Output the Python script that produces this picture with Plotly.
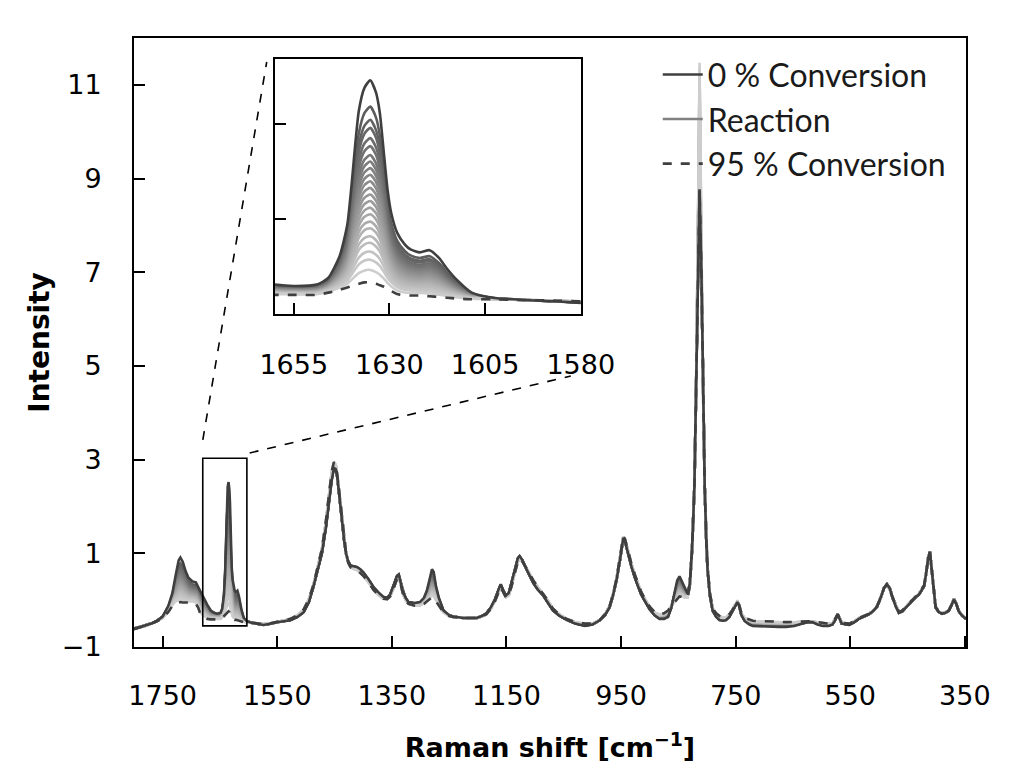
import numpy as np
import plotly.graph_objects as go

# ---------------- data ----------------
wavenumber = [1800, 1790, 1780, 1770, 1760, 1750, 1740, 1733, 1727, 1722, 1719, 1715, 1710, 1705,
              1698, 1692, 1688, 1684, 1678, 1672, 1666, 1660, 1655, 1649, 1646, 1643, 1641, 1640,
              1638, 1636.5, 1635, 1633.5, 1632.5, 1631.5, 1630.5, 1629.5, 1628, 1626, 1624.5, 1622,
              1619.5, 1617, 1615, 1612.5, 1608.5, 1603, 1595, 1586, 1580, 1574, 1560, 1550, 1527,
              1515, 1504, 1495, 1487, 1480, 1472, 1465, 1460, 1455, 1451, 1448, 1445, 1442, 1437,
              1433, 1430, 1426, 1422, 1416, 1411, 1405, 1400, 1391, 1382, 1373, 1365, 1358, 1353,
              1346, 1341, 1338, 1335, 1331, 1326, 1321, 1310, 1301, 1294, 1289, 1284, 1280, 1277,
              1273, 1268, 1260, 1250, 1243, 1225, 1202, 1193, 1185, 1177, 1170, 1164, 1160, 1156,
              1151, 1146, 1141, 1135, 1130, 1127, 1122, 1115, 1108, 1103, 1095, 1086, 1078, 1069,
              1058, 1045, 1030, 1013, 1000, 987, 978, 970, 964, 958, 952, 948, 946, 943, 938, 932,
              926, 920, 915, 907, 900, 891, 883, 875, 868, 862, 857, 852, 848, 844, 839, 834, 830,
              826, 822, 819, 816, 813, 810, 807, 804, 801, 799, 795, 790, 784, 778, 772, 767, 761,
              755, 750, 747, 744, 740, 734, 726, 720, 705, 691, 675, 662, 648, 633, 624, 616, 607,
              598, 588, 581, 576, 572, 568, 565, 552, 544, 535, 526, 517, 509, 503, 497, 491, 486,
              481, 476, 470, 465, 459, 453, 447, 442, 436, 430, 425, 421, 417, 414, 411, 408, 405,
              401, 396, 390, 384, 378, 373, 369, 365, 361, 355, 348]

intensity_0 = [-0.62, -0.58, -0.55, -0.50, -0.44, -0.35, -0.12, 0.15, 0.55, 0.85, 0.91, 0.82, 0.62, 0.48,
               0.40, 0.38, 0.28, 0.18, 0.05, -0.10, -0.22, -0.27, -0.29, -0.27, -0.18, 0.12, 0.55, 1.03,
               2.10, 2.42, 2.52, 2.35, 2.07, 1.55, 1.03, 0.70, 0.44, 0.28, 0.21, 0.17,
               0.20, 0.09, -0.05, -0.20, -0.38, -0.45, -0.48, -0.50, -0.52, -0.53, -0.50, -0.47, -0.43,
               -0.36, -0.26, -0.05, 0.28, 0.60, 1.00, 1.55, 2.06, 2.55, 2.82, 2.80, 2.60, 2.25, 1.64,
               1.25, 1.00, 0.82, 0.74, 0.72, 0.71, 0.66, 0.60, 0.45, 0.28, 0.16, 0.07, 0.05, 0.12,
               0.35, 0.52, 0.55, 0.42, 0.20, 0.05, -0.04, -0.06, -0.04, 0.05, 0.20, 0.45, 0.66, 0.60,
               0.30, 0.05, -0.22, -0.32, -0.35, -0.38, -0.38, -0.34, -0.28, -0.15, 0.02, 0.22, 0.34, 0.22,
               0.10, 0.15, 0.38, 0.70, 0.90, 0.94, 0.85, 0.66, 0.48, 0.36, 0.22, 0.10, -0.05, -0.22,
               -0.33, -0.42, -0.50, -0.55, -0.52, -0.43, -0.32, -0.15, 0.10, 0.42, 0.85, 1.20, 1.33, 1.25, 0.98, 0.72,
               0.48, 0.28, 0.12, -0.05, -0.20, -0.33, -0.40, -0.40, -0.36, -0.15, 0.15, 0.42, 0.51, 0.40, 0.24, 0.14, 0.35,
               1.10, 2.41, 4.50, 7.20, 8.77, 7.20, 4.50, 2.41, 1.20, 0.64, 0.10, -0.23, -0.36, -0.43, -0.44, -0.43, -0.36,
               -0.22, -0.08, -0.04, -0.12, -0.32, -0.45, -0.52, -0.55, -0.56, -0.56, -0.57, -0.57, -0.55, -0.50, -0.47, -0.47, -0.52,
               -0.55, -0.55, -0.52, -0.42, -0.30, -0.40, -0.50, -0.53, -0.48, -0.40, -0.35, -0.30, -0.22, -0.13, 0.05, 0.26, 0.34,
               0.25, 0.05, -0.15, -0.27, -0.24, -0.16, -0.08, -0.02, 0.06, 0.12, 0.22, 0.30, 0.62, 0.90, 1.03, 0.70, 0.30,
               -0.16, -0.25, -0.29, -0.27, -0.23, -0.10, 0.02, -0.08, -0.23, -0.33, -0.40]

intensity_95 = [-0.60, -0.57, -0.55, -0.50, -0.45, -0.38, -0.25, -0.12, -0.06, -0.05, -0.04, -0.05, -0.05, -0.06,
                -0.05, -0.08, -0.16, -0.30, -0.36, -0.40, -0.41, -0.41, -0.41, -0.41, -0.38, -0.34, -0.31, -0.29,
                -0.26, -0.24, -0.24, -0.26, -0.28, -0.30, -0.33, -0.36, -0.40, -0.42, -0.42, -0.42,
                -0.43, -0.44, -0.45, -0.46, -0.47, -0.47, -0.48, -0.49, -0.50, -0.51, -0.49, -0.46, -0.40,
                -0.32, -0.20, 0.02, 0.32, 0.68, 1.10, 1.70, 2.25, 2.75, 2.95, 2.90, 2.65, 2.30, 1.70,
                1.30, 1.00, 0.80, 0.70, 0.66, 0.64, 0.58, 0.52, 0.38, 0.22, 0.10, 0.03, 0.02, 0.08,
                0.28, 0.45, 0.46, 0.36, 0.15, 0.00, -0.08, -0.12, -0.12, -0.08, -0.03, 0.02, 0.06, 0.05,
                -0.02, -0.10, -0.26, -0.34, -0.36, -0.38, -0.38, -0.35, -0.30, -0.18, -0.02, 0.16, 0.28, 0.18,
                0.06, 0.10, 0.30, 0.60, 0.82, 0.88, 0.82, 0.68, 0.52, 0.42, 0.28, 0.14, 0.00, -0.18,
                -0.30, -0.40, -0.47, -0.50, -0.50, -0.42, -0.30, -0.13, 0.12, 0.45, 0.88, 1.25, 1.36, 1.30, 1.05, 0.78,
                0.55, 0.34, 0.18, 0.00, -0.14, -0.26, -0.30, -0.28, -0.22, -0.12, -0.05, 0.02, 0.08, 0.07, 0.04, 0.05, 0.30,
                1.10, 2.41, 4.50, 7.20, 8.77, 7.20, 4.50, 2.41, 1.20, 0.70, 0.15, -0.18, -0.28, -0.34, -0.36, -0.36, -0.30,
                -0.20, -0.08, -0.04, -0.10, -0.28, -0.38, -0.42, -0.44, -0.45, -0.45, -0.46, -0.47, -0.46, -0.45, -0.44, -0.45, -0.47,
                -0.49, -0.50, -0.49, -0.40, -0.30, -0.40, -0.48, -0.50, -0.46, -0.38, -0.34, -0.29, -0.22, -0.13, 0.05, 0.26, 0.33,
                0.24, 0.05, -0.14, -0.26, -0.22, -0.13, -0.06, 0.00, 0.08, 0.14, 0.24, 0.32, 0.62, 0.90, 1.03, 0.70, 0.30,
                -0.14, -0.24, -0.28, -0.26, -0.22, -0.10, 0.02, -0.08, -0.22, -0.32, -0.40]

# C=C band (1635 cm-1) height of each intermediate "Reaction" spectrum
reaction_peak_1635 = [2.16, 1.98, 1.87, 1.73, 1.62, 1.50, 1.41, 1.32, 1.23, 1.14, 1.05,
                      0.96, 0.87, 0.78, 0.69, 0.59, 0.50, 0.39, 0.30, 0.18, 0.07, -0.07]
# ring band (813 cm-1) height of the same spectra (light grey column above the dark peak)
reaction_peak_813 = [8.9, 9.0, 9.1, 9.2, 9.3, 9.4, 9.5, 9.6, 9.7, 9.8, 9.9,
                     10.0, 10.1, 10.2, 10.4, 10.6, 10.8, 11.0, 11.1, 11.2, 11.35, 11.47]

x_ticks = [1750, 1550, 1350, 1150, 950, 750, 550, 350]
y_ticks = [-1, 1, 3, 5, 7, 9, 11]
inset_x_ticks = [1655, 1630, 1605, 1580]

# ---------------- build ----------------
wn = np.array(wavenumber, dtype=float)
i0 = np.array(intensity_0, dtype=float)
i95 = np.array(intensity_95, dtype=float)
k1635 = int(np.argmin(np.abs(wn - 1635)))
k813 = int(np.argmin(np.abs(wn - 813)))

reaction_curves = []
for p, p813 in zip(reaction_peak_1635, reaction_peak_813):
    f = (i0[k1635] - p) / (i0[k1635] - i95[k1635])
    c = i0 + f * (i95 - i0)
    c[k813] = p813
    reaction_curves.append(c)

n = len(reaction_curves)
greys = np.linspace(92, 205, n).astype(int)

DARK = "#3f3f3f"
fig = go.Figure()

for axes in (("x", "y"), ("x2", "y2")):
    main = axes[0] == "x"
    shape = "linear" if main else "spline"
    for j, c in enumerate(reaction_curves):
        g = greys[j]
        fig.add_trace(go.Scatter(
            x=wn, y=c, mode="lines", xaxis=axes[0], yaxis=axes[1],
            line=dict(color=f"rgb({g},{g},{g})", width=2.6, shape=shape, smoothing=0.6),
            name="Reaction", legendrank=2,
            showlegend=bool(main and j == n // 2 - 4), hoverinfo="skip"))
    fig.add_trace(go.Scatter(
        x=wn, y=i95, mode="lines", xaxis=axes[0], yaxis=axes[1],
        line=dict(color=DARK, width=2.6, dash="dash", shape=shape, smoothing=0.6),
        name="95 % Conversion", legendrank=3, showlegend=main))
    fig.add_trace(go.Scatter(
        x=wn, y=i0, mode="lines", xaxis=axes[0], yaxis=axes[1],
        line=dict(color=DARK, width=2.6, shape=shape, smoothing=0.6),
        name="0 % Conversion", legendrank=1, showlegend=main))

FONT = "DejaVu Sans"
tickfont = dict(family=FONT, size=27, color="black")
axis_common = dict(showline=True, linecolor="black", linewidth=2, mirror=True,
                   ticks="inside", ticklen=11, tickwidth=1.5, tickcolor="black",
                   showgrid=False, zeroline=False, tickfont=tickfont)

fig.update_layout(
    width=1004, height=771,
    margin=dict(l=126, r=44, t=30, b=132),
    paper_bgcolor="white", plot_bgcolor="white",
    xaxis=dict(range=[1800, 348], tickvals=x_ticks, ticklabelstandoff=24,
               title=dict(text="<b>Raman shift [cm<sup>−1</sup>]</b>", standoff=28,
                          font=dict(family=FONT, size=27, color="black")),
               **axis_common),
    yaxis=dict(range=[-1, 12], tickvals=y_ticks, ticklabelstandoff=25,
               title=dict(text="<b>Intensity</b>", standoff=4,
                          font=dict(family=FONT, size=28, color="black")),
               **axis_common),
    xaxis2=dict(domain=[0.169, 0.537], anchor="y2", range=[1660, 1580],
                tickvals=inset_x_ticks, ticklabelstandoff=26, **axis_common),
    yaxis2=dict(domain=[0.547, 0.9655], anchor="x2", range=[-0.67, 2.81],
                tickvals=[0.63, 1.92], showticklabels=False,
                **{k: v for k, v in axis_common.items() if k != "tickfont"}),
    legend=dict(x=0.6295, y=0.985, xanchor="left", yanchor="top",
                bgcolor="rgba(0,0,0,0)", itemwidth=40, tracegroupgap=0,
                font=dict(family="Lato", size=32, color="#1a1a1a")),
    showlegend=True,
)

# zoom box on the main spectrum and the dashed leader lines to the inset
fig.add_shape(type="rect", xref="x", yref="y", x0=1680, x1=1603, y0=-0.55, y1=3.03,
              line=dict(color="black", width=1.6))
fig.add_shape(type="line", xref="paper", yref="paper", x0=0.0827, y0=0.340, x1=0.1595, y1=0.9606,
              line=dict(color="black", width=1.6, dash="dash"))
fig.add_shape(type="line", xref="paper", yref="paper", x0=0.139, y0=0.3186, x1=0.525, y1=0.445,
              line=dict(color="black", width=1.6, dash="dash"))

fig.write_html("out.html")
